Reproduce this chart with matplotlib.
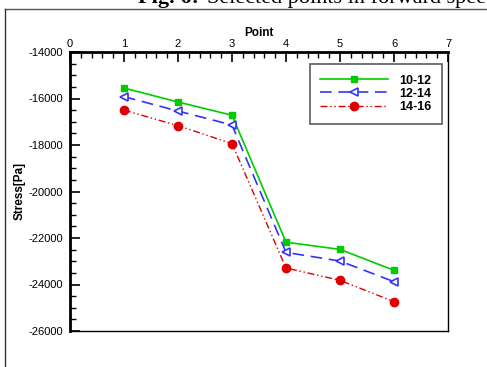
import numpy as np
import matplotlib
matplotlib.use("Agg")
from matplotlib import pyplot as plt
from matplotlib.ticker import MultipleLocator
from matplotlib.lines import Line2D

plt.rcParams['font.family'] = ['Liberation Sans', 'DejaVu Sans']
plt.rcParams['axes.unicode_minus'] = False

# data
points = [1, 2, 3, 4, 5, 6]
s_10_12 = [-15550, -16150, -16720, -22180, -22490, -23390]
s_12_14 = [-15920, -16540, -17140, -22620, -22990, -23880]
s_14_16 = [-16500, -17170, -17940, -23290, -23820, -24740]
labels = ['10-12', '12-14', '14-16']

fig = plt.figure(figsize=(4.87, 3.67), dpi=100)

# caption (cut off at the top of the image, as in the source page) and page frame
fig.text(138 / 487, 1 - 3 / 367, 'Fig. 6:', family='Liberation Serif',
         fontweight='bold', fontsize=16, va='baseline', ha='left')
fig.text(207 / 487, 1 - 3 / 367, 'Selected points in forward speed',
         family='Liberation Serif', fontsize=16, va='baseline', ha='left')
fig.add_artist(Line2D([5 / 487, 1], [1 - 9 / 367, 1 - 9 / 367],
                      transform=fig.transFigure, color='#555555', lw=1))
fig.add_artist(Line2D([5 / 487, 5 / 487], [0, 1 - 9 / 367],
                      transform=fig.transFigure, color='#333333', lw=1))

ax = fig.add_axes([70 / 487, 1 - 331 / 367, 378 / 487, 279 / 367])

ax.plot(points, s_10_12, color='#00cc00', lw=1.2, ls='-', marker='s',
        ms=5, mfc='#00cc00', mec='#00cc00', label=labels[0])
ax.plot(points, s_12_14, color='#3333ff', lw=1.2, ls=(0, (7, 4)), marker='<',
        ms=6, mfc='white', mec='#3333ff', mew=1.2, label=labels[1])
ax.plot(points, s_14_16, color='#dd0000', lw=1.0, ls=(0, (5, 2, 1, 2, 1, 2)),
        marker='o', ms=6, mfc='#dd0000', mec='#dd0000', label=labels[2])

ax.set_xlim(0, 7)
ax.set_ylim(-26000, -14000)
ax.xaxis.set_major_locator(MultipleLocator(1))
ax.xaxis.set_minor_locator(MultipleLocator(0.2))
ax.yaxis.set_major_locator(MultipleLocator(2000))
ax.yaxis.set_minor_locator(MultipleLocator(500))
ax.xaxis.tick_top()
ax.xaxis.set_label_position('top')
ax.tick_params(axis='x', which='both', direction='in', top=True, bottom=False,
               labelsize=8, pad=2)
ax.tick_params(axis='y', which='both', direction='in', left=True, right=False,
               labelsize=8, pad=5)
ax.tick_params(which='major', length=7, width=1.2)
ax.tick_params(which='minor', length=4, width=1)
ax.set_xlabel('Point', fontweight='bold', fontsize=8.5, labelpad=2)
ax.set_ylabel('Stress[Pa]', fontweight='bold', fontsize=8.5, labelpad=2)

ax.spines['left'].set_linewidth(2)
ax.spines['top'].set_linewidth(2)
ax.spines['right'].set_linewidth(1)
ax.spines['bottom'].set_linewidth(1)

leg = ax.legend(loc='upper right', bbox_to_anchor=(0.984, 0.957), fancybox=False,
                edgecolor='#333333', handlelength=5.4, borderpad=0.85,
                labelspacing=0.1, handletextpad=0.9, borderaxespad=0,
                prop={'weight': 'bold', 'size': 9})
leg.get_frame().set_linewidth(1.2)

fig.savefig('out.png', dpi=100)
